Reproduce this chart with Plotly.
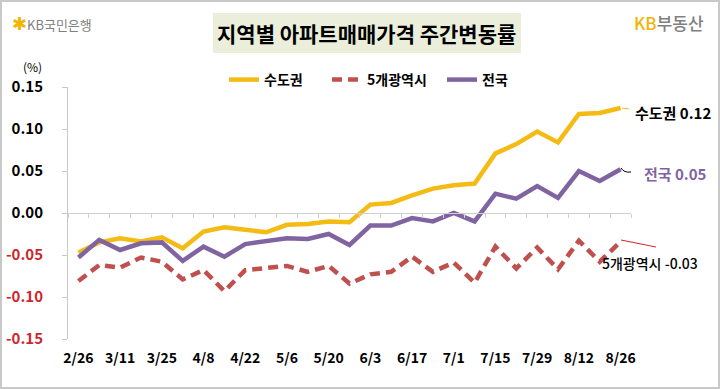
import plotly.graph_objects as go

weeks = ["2/26", "3/4", "3/11", "3/18", "3/25", "4/1", "4/8", "4/15", "4/22", "4/29",
         "5/6", "5/13", "5/20", "5/27", "6/3", "6/10", "6/17", "6/24", "7/1", "7/8",
         "7/15", "7/22", "7/29", "8/5", "8/12", "8/19", "8/26"]
tick_labels = weeks[::2]

capital = [-0.047, -0.035, -0.030, -0.034, -0.029, -0.042, -0.022, -0.017, -0.020, -0.023,
           -0.014, -0.013, -0.010, -0.011, 0.010, 0.012, 0.021, 0.029, 0.033, 0.035,
           0.071, 0.082, 0.097, 0.084, 0.118, 0.119, 0.125]
metro5 = [-0.081, -0.062, -0.065, -0.053, -0.058, -0.079, -0.068, -0.093, -0.068, -0.065,
          -0.063, -0.070, -0.063, -0.084, -0.073, -0.070, -0.052, -0.070, -0.059, -0.083,
          -0.040, -0.066, -0.041, -0.067, -0.033, -0.058, -0.034]
nation = [-0.053, -0.032, -0.044, -0.036, -0.035, -0.057, -0.040, -0.052, -0.037, -0.034,
          -0.030, -0.031, -0.025, -0.038, -0.015, -0.015, -0.006, -0.010, 0.000, -0.010,
          0.023, 0.017, 0.032, 0.018, 0.050, 0.038, 0.052]

y_ticks = [0.15, 0.10, 0.05, 0.00, -0.05, -0.10, -0.15]
y_tick_text = ["0.15", "0.10", "0.05", "0.00", "-0.05", "-0.10", "-0.15"]

series_names = ["수도권", "5개광역시", "전국"]
end_labels = ["수도권 0.12", "5개광역시 -0.03", "전국 0.05"]

YELLOW = "#F4BB14"
RED = "#C0504D"
PURPLE = "#8064A2"
NEG_RED = "#D0262C"
FONT = "Noto Sans CJK KR"

W, H = 720, 389
L, R, T, B = 68, 89, 87, 50
PW, PH = W - L - R, H - T - B


def px(x):
    return (x - L) / PW


def py(y):
    return (H - B - y) / PH


fig = go.Figure()
fig.add_trace(go.Scatter(x=weeks, y=capital, name=series_names[0], mode="lines",
                         line=dict(color=YELLOW, width=4.5), legend="legend"))
fig.add_trace(go.Scatter(x=weeks, y=metro5, name=series_names[1], mode="lines",
                         line=dict(color=RED, width=4.5, dash="10px,6px"), legend="legend2"))
fig.add_trace(go.Scatter(x=weeks, y=nation, name=series_names[2], mode="lines",
                         line=dict(color=PURPLE, width=4.5), legend="legend3"))
# invisible trace to carry the zero-line category axis
fig.add_trace(go.Scatter(x=weeks, y=[None] * len(weeks), xaxis="x2", showlegend=False,
                         hoverinfo="skip", mode="lines"))

tt = [f'<span style="color:{NEG_RED}">{t}</span>' if v < 0 else t
      for v, t in zip(y_ticks, y_tick_text)]


def leg(x_left):
    return dict(orientation="h", xref="container", yref="container",
                x=x_left / W, y=1 - 80 / H, xanchor="left", yanchor="middle",
                font=dict(size=14, weight="bold", family=FONT), bgcolor="rgba(0,0,0,0)",
                itemwidth=30, borderwidth=0)


fig.update_layout(
    width=W, height=H,
    margin=dict(l=L, r=R, t=T, b=B, autoexpand=False),
    paper_bgcolor="white", plot_bgcolor="white",
    font=dict(family=FONT, color="black"),
    showlegend=True,
    legend=leg(224), legend2=leg(327), legend3=leg(442),
    xaxis=dict(type="category", range=[-0.5, len(weeks) - 0.5], showline=False,
               showgrid=False, zeroline=False, ticks="", tickmode="array",
               tickvals=tick_labels, ticktext=tick_labels, tickangle=0, automargin=False,
               tickfont=dict(size=14, weight="bold", family=FONT, color="black"),
               ticklabelstandoff=9),
    xaxis2=dict(type="category", overlaying="x", matches="x", anchor="free", position=0.5,
                showline=True, linecolor="#D0D0D0", linewidth=1, showgrid=False,
                zeroline=False, ticks="outside", ticklen=4, tickcolor="#D0D0D0",
                tickson="boundaries", showticklabels=False, dtick=1, automargin=False),
    yaxis=dict(range=[-0.15, 0.15], tickmode="array", tickvals=y_ticks, ticktext=tt,
               showline=True, linecolor="#C8C8C8", linewidth=1, ticks="outside",
               ticklen=5, tickcolor="#C8C8C8", showgrid=False, zeroline=False,
               tickfont=dict(size=15, weight="bold", family=FONT, color="black"),
               ticklabelstandoff=16, automargin=False),
)

shapes = []
# outer border
shapes.append(dict(type="rect", xref="paper", yref="paper",
                   x0=px(1), x1=px(W - 1), y0=py(H - 1), y1=py(1),
                   line=dict(color="#C8C8C8", width=2), fillcolor="rgba(0,0,0,0)", layer="below"))
# title box
shapes.append(dict(type="rect", xref="paper", yref="paper",
                   x0=px(213), x1=px(521), y0=py(53), y1=py(13),
                   line=dict(width=0), fillcolor="#EAEEDB", layer="below"))
# leader lines
shapes.append(dict(type="line", xref="paper", yref="paper",
                   x0=px(622), y0=py(108), x1=px(629), y1=py(109),
                   line=dict(color=YELLOW, width=1)))
shapes.append(dict(type="path", xref="paper", yref="paper",
                   path=f"M {px(621)},{py(168)} Q {px(624)},{py(173)} {px(631)},{py(172)}",
                   line=dict(color="black", width=1)))
shapes.append(dict(type="line", xref="paper", yref="paper",
                   x0=px(621), y0=py(240), x1=px(656), y1=py(247),
                   line=dict(color=NEG_RED, width=1)))
fig.update_layout(shapes=shapes)

ann = []
ann.append(dict(text="지역별 아파트매매가격 주간변동률", xref="paper", yref="paper",
                x=px(366), y=py(33), xanchor="center", yanchor="middle", showarrow=False,
                font=dict(size=21, weight="bold", family=FONT, color="black")))
ann.append(dict(text='<span style="color:#F2B400;font-size:18px">✱</span><span style="color:#7F7F7F">KB국민은행</span>',
                xref="paper", yref="paper", x=px(10), y=py(22), xanchor="left", yanchor="middle",
                showarrow=False, font=dict(size=13, family=FONT)))
ann.append(dict(text='<span style="color:#F2B400">KB</span><span style="color:#808080">부동산</span>',
                xref="paper", yref="paper", x=px(706), y=py(22), xanchor="right", yanchor="middle",
                showarrow=False, font=dict(size=17, family=FONT, weight=500)))
ann.append(dict(text="(%)", xref="paper", yref="paper", x=px(32), y=py(66),
                xanchor="center", yanchor="middle", showarrow=False,
                font=dict(size=12, family=FONT, color="black")))
ann.append(dict(text=end_labels[0], xref="paper", yref="paper", x=px(633), y=py(112),
                xanchor="left", yanchor="middle", showarrow=False,
                font=dict(size=15, weight="bold", family=FONT, color="black")))
ann.append(dict(text=end_labels[2], xref="paper", yref="paper", x=px(642), y=py(173),
                xanchor="left", yanchor="middle", showarrow=False,
                font=dict(size=15, weight="bold", family=FONT, color=PURPLE)))
ann.append(dict(text=end_labels[1], xref="paper", yref="paper", x=px(600), y=py(263),
                xanchor="left", yanchor="middle", showarrow=False,
                font=dict(size=14, weight=500, family=FONT, color="black")))
fig.update_layout(annotations=ann)

fig.write_html("out.html", config={"displayModeBar": False},
               post_script="document.body.style.margin='0';")
